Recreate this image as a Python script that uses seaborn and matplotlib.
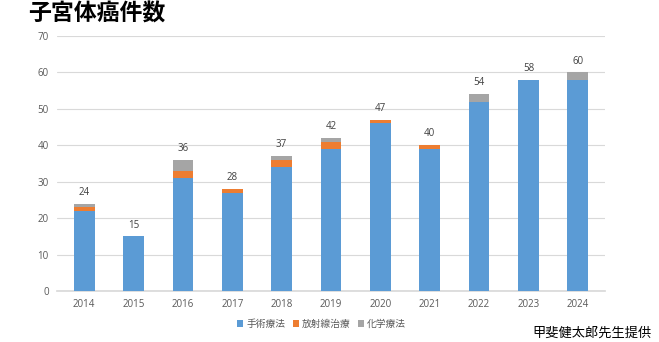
import matplotlib
matplotlib.use("Agg")
import matplotlib.pyplot as plt
import seaborn as sns
import pandas as pd
import numpy as np

years = ["2014", "2015", "2016", "2017", "2018", "2019", "2020", "2021", "2022", "2023", "2024"]
surgery = [22, 15, 31, 27, 34, 39, 46, 39, 52, 58, 58]
radiation = [1, 0, 2, 1, 2, 2, 1, 1, 0, 0, 0]
chemo = [1, 0, 3, 0, 1, 1, 0, 0, 2, 0, 2]
series_names = ["手術療法", "放射線治療", "化学療法"]
colors = ["#5B9BD5", "#ED7D31", "#A5A5A5"]

sns.set_theme(style="white")
plt.rcParams["font.family"] = ["Open Sans", "Noto Sans CJK JP", "DejaVu Sans"]

s = np.array(surgery)
r = np.array(radiation)
c = np.array(chemo)
tot = s + r + c
df = pd.DataFrame({"year": years, "s": s, "sr": s + r, "tot": tot})

fig = plt.figure(figsize=(6.59, 3.42), dpi=100)
ax = fig.add_axes([57/659, 1-291/342, (605-57)/659, (291-36)/342])

for col, color, name in [("tot", colors[2], series_names[2]), ("sr", colors[1], series_names[1]), ("s", colors[0], series_names[0])]:
    sns.barplot(data=df, x="year", y=col, color=color, width=0.42, ax=ax,
                saturation=1, label=name, linewidth=0, zorder=3)

for i, t in enumerate(tot):
    ax.text(i, t + 1.6, str(t), ha="center", va="bottom", fontsize=7, color="#404040")

ax.set_ylim(0, 70)
ax.set_yticks(range(0, 71, 10))
ax.set_xlim(-0.55, 10.55)
ax.set_xlabel("")
ax.set_ylabel("")
ax.grid(axis="y", color="#D9D9D9", linewidth=0.8, zorder=0)
for sp in ["top", "right", "left"]:
    ax.spines[sp].set_visible(False)
ax.spines["bottom"].set_color("#D9D9D9")
ax.tick_params(axis="both", length=0, labelsize=7, labelcolor="#595959", pad=6)

handles, labels = ax.get_legend_handles_labels()
order = [labels.index(n) for n in series_names]
leg = ax.legend([handles[i] for i in order], [labels[i] for i in order],
                loc="upper center", bbox_to_anchor=(0.483, -0.075), ncol=3, frameon=False,
                fontsize=7, handlelength=0.6, handleheight=0.6, handletextpad=0.3,
                columnspacing=0.8, labelcolor="#595959")

fig.text(28/659, 1-15/342, "子宮体癌件数", fontsize=16.5, fontweight="bold", va="center", ha="left", color="black")
fig.text(652/659, 1-333/342, "甲斐健太郎先生提供", fontsize=9.5, va="center", ha="right", color="black")

fig.savefig("out.png", dpi=100)
